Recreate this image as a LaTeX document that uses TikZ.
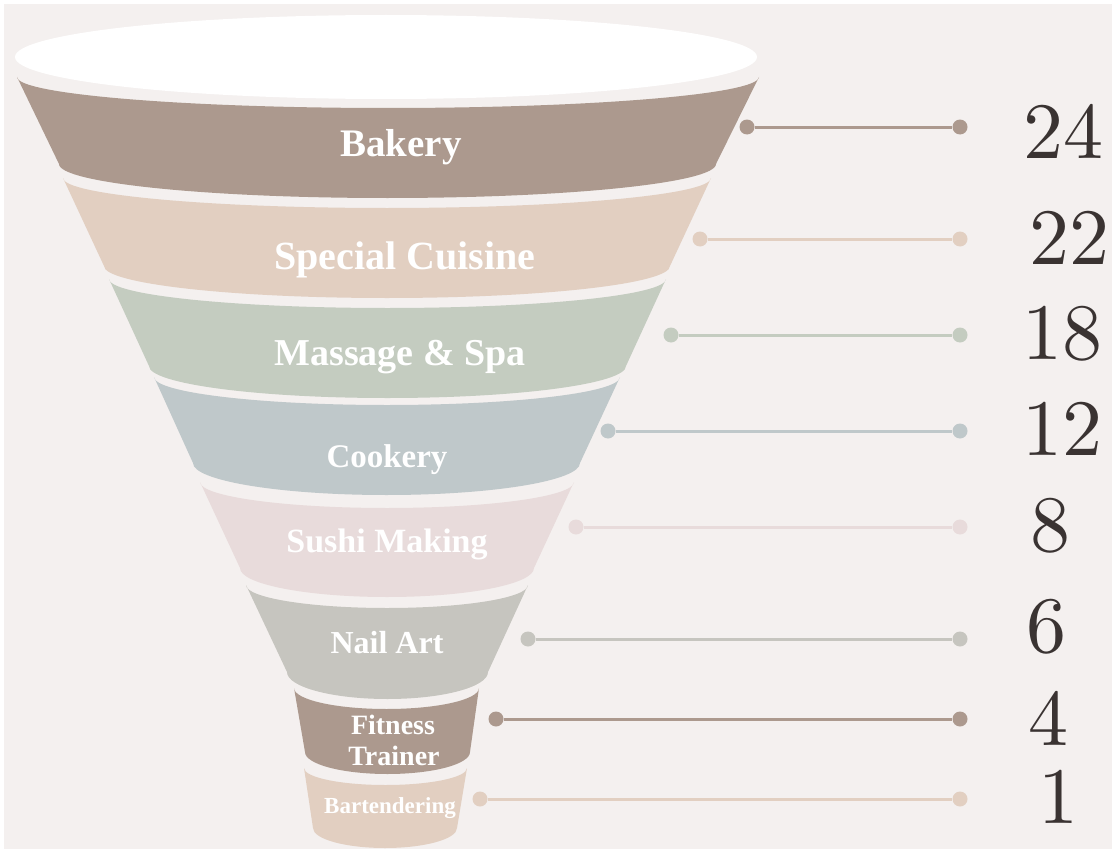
\documentclass[tikz,border=0pt]{standalone}
\usepackage{fontspec}
\setmainfont{Liberation Serif}
\newfontfamily\numfont{lmroman10-regular}[Extension=.otf]
\definecolor{bg}{HTML}{F4F0EF}
\definecolor{cA}{HTML}{AC998E}
\definecolor{cB}{HTML}{E2CFC1}
\definecolor{cC}{HTML}{C4CCC0}
\definecolor{cD}{HTML}{BFC8CA}
\definecolor{cE}{HTML}{E8DBDB}
\definecolor{cF}{HTML}{C6C5BF}
\definecolor{numc}{HTML}{3A3332}
% band: colour, top-left x, top-right x, top y, top sag, bottom-left x, bottom-right x, bottom y, bottom sag
\newcommand\funnelband[9]{%
  \fill[#1] (#2,#4) arc[start angle=180,end angle=0,x radius={(#3-#2)/2},y radius=#5]
    -- (#7,#8) arc[start angle=0,end angle=180,x radius={(#7-#6)/2},y radius=#9] -- cycle;}
\tikzset{
  lbl/.style={anchor=base,text=white,inner sep=0pt,font=\bfseries\fontsize{#1}{#1}\selectfont},
  num/.style={anchor=center,text=numc,inner sep=0pt,font=\numfont\fontsize{80}{80}\selectfont},
  dot/.style={circle,fill=#1,minimum size=15pt,inner sep=0pt},
  conn/.style={draw=#1,line width=3pt}
}
\begin{document}
\begin{tikzpicture}[x=1pt,y=-1pt]
\useasboundingbox (0,0) rectangle (1112,851);
\fill[white] (0,0) rectangle (1112,851);
\fill[bg] (4,4) rectangle (1112,849);
% top opening
\fill[white] (386,57) ellipse[x radius=371,y radius=42];
% bands
\funnelband{cA}{17}{759}{77}{31}{59}{716}{164}{34}
\funnelband{cB}{63}{711}{178}{30}{104}{670}{266}{32}
\funnelband{cC}{109}{666}{279}{29}{149}{626}{366}{32}
\funnelband{cD}{154}{620}{377}{28}{193}{580}{463}{32}
\funnelband{cE}{200}{574}{482}{26}{240}{534}{568}{29}
\funnelband{cF}{246}{528}{585}{23}{287}{488}{672}{27}
\funnelband{cA}{294}{479}{688}{21}{305}{470}{752}{22}
\funnelband{cB}{304}{467}{768}{17}{313}{457}{828}{20}
% labels
\node[lbl=39] (l1) at (401,157) {Bakery};
\node[lbl=40] (l2) at (405,269) {Special Cuisine};
\node[lbl=38] (l3) at (400,365) {Massage \& Spa};
\node[lbl=33] (l4) at (387,467) {Cookery};
\node[lbl=34] (l5) at (387,552) {Sushi Making};
\node[lbl=32] (l6) at (387,653) {Nail Art};
\node[lbl=28] (l7a) at (393,734) {Fitness};
\node[lbl=28] (l7b) at (394,765) {Trainer};
\node[lbl=23] (l8) at (390,813) {Bartendering};
% connectors
\node[dot=cA] (a1) at (747,127) {}; \node[dot=cA] (b1) at (960,127) {};
\node[dot=cB] (a2) at (700,239) {}; \node[dot=cB] (b2) at (960,239) {};
\node[dot=cC] (a3) at (671,335) {}; \node[dot=cC] (b3) at (960,335) {};
\node[dot=cD] (a4) at (608,431) {}; \node[dot=cD] (b4) at (960,431) {};
\node[dot=cE] (a5) at (576,527) {}; \node[dot=cE] (b5) at (960,527) {};
\node[dot=cF] (a6) at (528,639) {}; \node[dot=cF] (b6) at (960,639) {};
\node[dot=cA] (a7) at (496,719) {}; \node[dot=cA] (b7) at (960,719) {};
\node[dot=cB] (a8) at (480,799) {}; \node[dot=cB] (b8) at (960,799) {};
\draw[conn=cA] (a1) -- (b1);
\draw[conn=cB] (a2) -- (b2);
\draw[conn=cC] (a3) -- (b3);
\draw[conn=cD] (a4) -- (b4);
\draw[conn=cE] (a5) -- (b5);
\draw[conn=cF] (a6) -- (b6);
\draw[conn=cA] (a7) -- (b7);
\draw[conn=cB] (a8) -- (b8);
% numbers
\node[num] (n1) at (1063,131) {24};
\node[num] (n2) at (1069,238) {22};
\node[num] (n3) at (1062,334) {18};
\node[num] (n4) at (1062,429) {12};
\node[num] (n5) at (1050,526) {8};
\node[num] (n6) at (1046,627) {6};
\node[num] (n7) at (1048,718) {4};
\node[num] (n8) at (1058,797) {1};
\end{tikzpicture}
\end{document}
